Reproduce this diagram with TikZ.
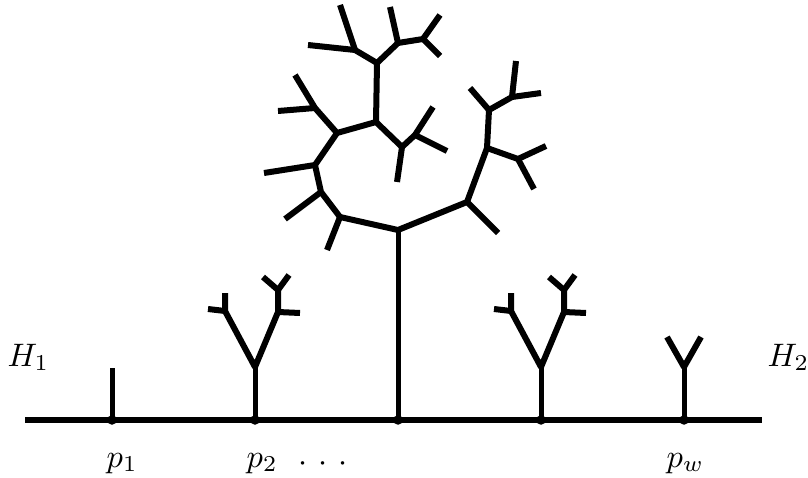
\documentclass[tikz,border=0pt]{standalone}
\begin{document}
\begin{tikzpicture}[x=1pt,y=-1pt,
  tree/.style={line width=6pt,line join=round},
  base/.style={line width=5.5pt},
  stalk/.style={line width=5pt},
  vdot/.style={circle,fill=black,inner sep=0pt,minimum size=9.5pt},
  lbl/.style={anchor=base west,inner sep=0pt,scale=3.25}]
\useasboundingbox (0,0) rectangle (808,478);
% baseline
\coordinate (L) at (25,420);
\coordinate (R) at (762,420);
\draw[base] (L) -- (R);
% attachment points
\coordinate (p1) at (112,420);
\coordinate (p2) at (255,420);
\coordinate (p3) at (398,420);
\coordinate (p4) at (541,420);
\coordinate (p5) at (684,420);
% p1 stalk
\coordinate (t1) at (112,368);
\draw[stalk] (p1) -- (t1);
% p2 tree
\coordinate (f2) at (255,367);
\coordinate (a2) at (225,311);
\coordinate (a2u) at (225,293);
\coordinate (a2l) at (208,309);
\coordinate (b2) at (278,312);
\coordinate (b2r) at (300,313);
\coordinate (c2) at (278,290);
\coordinate (c2l) at (263,277);
\coordinate (c2r) at (289,275);
\draw[stalk] (p2) -- (f2);
\draw[tree] (a2u) -- (a2) -- (f2) -- (b2) -- (c2) -- (c2l);
\draw[tree] (a2l) -- (a2);
\draw[tree] (b2) -- (b2r);
\draw[tree] (c2) -- (c2r);
% p4 tree
\coordinate (f4) at (541,367);
\coordinate (a4) at (511,311);
\coordinate (a4u) at (511,293);
\coordinate (a4l) at (494,309);
\coordinate (b4) at (564,312);
\coordinate (b4r) at (586,313);
\coordinate (c4) at (564,290);
\coordinate (c4l) at (549,277);
\coordinate (c4r) at (575,275);
\draw[stalk] (p4) -- (f4);
\draw[tree] (a4u) -- (a4) -- (f4) -- (b4) -- (c4) -- (c4l);
\draw[tree] (a4l) -- (a4);
\draw[tree] (b4) -- (b4r);
\draw[tree] (c4) -- (c4r);
% p5 tree
\coordinate (f5) at (684,367);
\coordinate (f5l) at (667,337);
\coordinate (f5r) at (701,337);
\draw[stalk] (p5) -- (f5);
\draw[tree] (f5l) -- (f5) -- (f5r);
% big tree
\coordinate (A) at (398,230);
\coordinate (B) at (340,217);
\coordinate (Bl) at (327,250);
\coordinate (C) at (467,202);
\coordinate (Cl) at (498,233);
\coordinate (D) at (321,192);
\coordinate (Dl) at (285,219);
\coordinate (E) at (315,165);
\coordinate (El) at (264,173);
\coordinate (F) at (337,133);
\coordinate (G) at (315,108);
\coordinate (Gl1) at (278,111);
\coordinate (Gl2) at (295,75);
\coordinate (H) at (376,122);
\coordinate (I) at (377,63);
\coordinate (J) at (402,147);
\coordinate (Jl) at (397,182);
\coordinate (K) at (415,135);
\coordinate (Kl1) at (433,107);
\coordinate (Kl2) at (447,151);
\coordinate (Lt) at (355,50);
\coordinate (Ll1) at (308,45);
\coordinate (Ll2) at (340,5);
\coordinate (M) at (398,43);
\coordinate (Ml) at (390,7);
\coordinate (N) at (423,39);
\coordinate (Nl1) at (440,15);
\coordinate (Nl2) at (440,56);
\coordinate (O) at (487,148);
\coordinate (P) at (518,159);
\coordinate (Pl1) at (546,146);
\coordinate (Pl2) at (534,189);
\coordinate (Q) at (489,110);
\coordinate (Ql) at (470,88);
\coordinate (Rr) at (512,97);
\coordinate (Rl1) at (516,61);
\coordinate (Rl2) at (541,93);
\draw[stalk] (p3) -- (A);
\draw[tree] (Bl) -- (B) -- (A) -- (C) -- (O) -- (Q) -- (Rr) -- (Rl2);
\draw[tree] (B) -- (D) -- (E) -- (F) -- (H) -- (I) -- (M) -- (N) -- (Nl1);
\draw[tree] (D) -- (Dl);
\draw[tree] (E) -- (El);
\draw[tree] (F) -- (G) -- (Gl1);
\draw[tree] (G) -- (Gl2);
\draw[tree] (H) -- (J) -- (K) -- (Kl1);
\draw[tree] (J) -- (Jl);
\draw[tree] (K) -- (Kl2);
\draw[tree] (I) -- (Lt) -- (Ll1);
\draw[tree] (Lt) -- (Ll2);
\draw[tree] (M) -- (Ml);
\draw[tree] (N) -- (Nl2);
\draw[tree] (C) -- (Cl);
\draw[tree] (O) -- (P) -- (Pl1);
\draw[tree] (P) -- (Pl2);
\draw[tree] (Q) -- (Ql);
\draw[tree] (Rr) -- (Rl1);
% dots
\foreach \p in {p1,p2,p3,p4,p5} \node[vdot] at (\p) {};
% labels
\node[lbl] (h1) at (7,366) {$H_1$};
\node[lbl] (h2) at (767,366) {$H_2$};
\node[lbl] (l1) at (106,467) {$p_1$};
\node[lbl] (l2) at (246,467) {$p_2$};
\node[lbl] (ld) at (298,471) {$\cdotp\,\cdotp\,\cdotp$};
\node[lbl] (lw) at (666,467) {$p_w$};
\end{tikzpicture}
\end{document}
